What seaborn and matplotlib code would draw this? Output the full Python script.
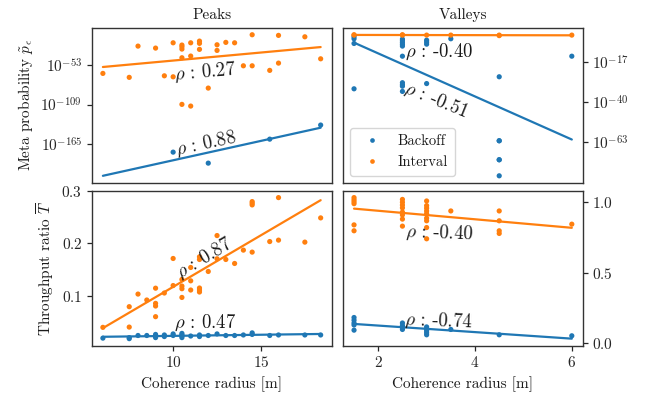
import numpy as np
import pandas as pd
import matplotlib
matplotlib.use("Agg")
import matplotlib.pyplot as plt
import seaborn as sns
from matplotlib.ticker import FixedLocator, FixedFormatter, NullLocator

# ---------------------------------------------------------------- data
methods = ["Backoff", "Interval"]
colors = {"Backoff": "#1f77b4", "Interval": "#ff7f0e"}

# Peaks: meta probability, stored as log10 values
peak_meta_backoff_r = [10, 12, 15.5, 18.4]
peak_meta_backoff_log = [-176.4, -192.0, -158.0, -138.0]
peak_meta_interval_r = [6, 7.5, 8, 9, 9.5, 10, 10, 10.5, 10.5, 10.5, 10.5, 10.5,
                        11, 11, 11, 11.5, 11.5, 11.5, 12, 12.5, 12.5, 13, 13.5,
                        14, 14.5, 14.5, 15.5, 16, 16, 17.5, 18.4]
peak_meta_interval_log = [-64.8, -70.4, -26.1, -28.9, -68.2, -21.4, -69.6, -24.6,
                          -27.0, -30.3, -42.6, -108.7, -21.4, -40.2, -111.1, -19.0,
                          -22.2, -30.7, -85.6, -24.2, -32.2, -20.8, -21.4, -54.0,
                          -10.0, -54.0, -60.5, -10.9, -50.2, -12.9, -44.1]

# Peaks: throughput ratio
peak_tp_backoff_r = [6, 7.5, 7.5, 8, 8.5, 9, 9, 9, 9.5, 9.5, 10, 10, 10.5, 10.5,
                     10.5, 10.5, 11, 11.5, 11.5, 12, 12.5, 13, 13.5, 14, 14.5,
                     14.5, 15.5, 16, 17.5, 18.4]
peak_tp_backoff = [0.020, 0.021, 0.019, 0.025, 0.025, 0.027, 0.024, 0.021, 0.026,
                   0.023, 0.028, 0.025, 0.029, 0.026, 0.024, 0.021, 0.024, 0.026,
                   0.023, 0.025, 0.028, 0.025, 0.025, 0.026, 0.030, 0.027, 0.025,
                   0.026, 0.026, 0.026]
peak_tp_interval_r = [6, 7.5, 7.5, 8, 8.5, 9, 9, 9, 9, 9.5, 10, 10, 10.5, 10.5,
                      10.5, 10.5, 11, 11, 11, 11.5, 11.5, 11.5, 11.5, 11.5, 12,
                      12.5, 12.5, 13, 13.5, 14, 14.5, 14.5, 14.5, 14.5, 15.5, 16,
                      16, 17.5, 18.4]
peak_tp_interval = [0.0405, 0.0798, 0.041, 0.1038, 0.0925, 0.115, 0.0861, 0.0811,
                    0.0608, 0.1058, 0.1715, 0.120, 0.1316, 0.119, 0.114, 0.0974,
                    0.1544, 0.129, 0.1115, 0.1747, 0.1696, 0.1153, 0.1115, 0.1077,
                    0.1468, 0.2151, 0.1709, 0.1696, 0.162, 0.1874, 0.2797, 0.2766,
                    0.2734, 0.1836, 0.2037, 0.2873, 0.2064, 0.2026, 0.2487]

# Valleys: meta probability, stored as log10 values (some runs coincide)
valley_meta_backoff_r = [1.5, 1.5, 1.5, 1.5, 2.5, 2.5, 2.5, 2.5, 2.5, 2.5, 2.5,
                         2.5, 2.5, 2.5, 3, 3, 3, 3, 3.5, 4.5, 4.5, 4.5, 4.5, 4.5,
                         4.5, 6]
valley_meta_backoff_log = [-2.6, -3.8, -6.5, -32.5, -4.0, -5.0, -6.0, -7.0, -8.0,
                           -13.8, -29.0, -30.2, -31.0, -34.0, -4.6, -5.7, -6.9,
                           -29.5, -3.8, -25.6, -62.3, -62.3, -73.2, -73.2, -82.4,
                           -13.8]
valley_meta_interval_r = [1.5, 1.5, 2.5, 2.5, 3, 3.5, 4.5, 4.5, 6]
valley_meta_interval_log = [-1.7, -1.5, -1.7, -1.5, -1.7, -1.7, -2.0, -1.7, -1.7]

# Valleys: throughput ratio
valley_tp_backoff_r = [1.5, 1.5, 1.5, 1.5, 1.5, 2.5, 2.5, 2.5, 2.5, 3, 3, 3, 3, 3,
                       3.5, 4.5, 6]
valley_tp_backoff = [0.180, 0.161, 0.141, 0.127, 0.090, 0.141, 0.123, 0.109, 0.095,
                     0.113, 0.099, 0.085, 0.071, 0.057, 0.095, 0.057, 0.050]
valley_tp_interval_r = [1.5, 1.5, 1.5, 1.5, 1.5, 1.5, 2.5, 2.5, 2.5, 2.5, 2.5, 2.5,
                        2.5, 2.5, 3, 3, 3, 3, 3, 3, 3, 3, 3, 3.5, 4.5, 4.5, 4.5,
                        4.5, 6]
valley_tp_interval = [1.033, 1.018, 1.004, 0.990, 0.839, 0.797, 1.02, 1.00, 0.98,
                      0.96, 0.93, 0.91, 0.88, 0.83, 1.009, 0.976, 0.958, 0.938,
                      0.919, 0.887, 0.868, 0.820, 0.740, 0.938, 0.938, 0.868,
                      0.797, 0.778, 0.844]

# correlation labels: (backoff, interval) per panel
rho_labels = {
    "peak_meta": ("0.88", "0.27"),
    "valley_meta": ("-0.51", "-0.40"),
    "peak_tp": ("0.47", "0.87"),
    "valley_tp": ("-0.74", "-0.40"),
}

peak_meta_tick_exp = [-165, -109, -53]
valley_meta_tick_exp = [-63, -40, -17]


def frame(r_b, v_b, r_i, v_i, log=False):
    df = pd.DataFrame({
        "radius": list(r_b) + list(r_i),
        "value": list(v_b) + list(v_i),
        "method": ["Backoff"] * len(r_b) + ["Interval"] * len(r_i),
    })
    df["fit"] = df["value"]
    if log:
        df["value"] = 10.0 ** df["fit"]
    return df


panels = {
    "peak_meta": frame(peak_meta_backoff_r, peak_meta_backoff_log,
                       peak_meta_interval_r, peak_meta_interval_log, log=True),
    "valley_meta": frame(valley_meta_backoff_r, valley_meta_backoff_log,
                         valley_meta_interval_r, valley_meta_interval_log, log=True),
    "peak_tp": frame(peak_tp_backoff_r, peak_tp_backoff,
                     peak_tp_interval_r, peak_tp_interval),
    "valley_tp": frame(valley_tp_backoff_r, valley_tp_backoff,
                       valley_tp_interval_r, valley_tp_interval),
}

# ---------------------------------------------------------------- style
sns.set_theme(style="ticks")
plt.rcParams.update({
    "font.family": "serif",
    "font.serif": ["cmr10"],
    "mathtext.fontset": "cm",
    "axes.formatter.use_mathtext": True,
    "font.size": 11,
    "axes.labelsize": 11,
    "axes.titlesize": 11,
    "xtick.labelsize": 11,
    "ytick.labelsize": 11,
    "axes.edgecolor": "0.2",
    "axes.linewidth": 1.0,
    "xtick.major.size": 3.5,
    "ytick.major.size": 3.5,
    "xtick.major.width": 0.9,
    "ytick.major.width": 0.9,
    "xtick.color": "0.15",
    "ytick.color": "0.15",
    "text.color": "0.1",
    "axes.labelcolor": "0.1",
    "axes.unicode_minus": False,
})

fig, axes = plt.subplots(2, 2, figsize=(6.52, 3.98), dpi=100, sharex="col")
fig.subplots_adjust(left=0.1411, right=0.8937, top=0.9304, bottom=0.1314,
                    wspace=0.0484, hspace=0.0496)

layout = {
    "peak_meta": axes[0, 0],
    "valley_meta": axes[0, 1],
    "peak_tp": axes[1, 0],
    "valley_tp": axes[1, 1],
}
log_panels = {"peak_meta", "valley_meta"}

# label placement in axes fraction: (x, y, rotation) for backoff / interval
text_place = {
    "peak_meta": ((0.478, 0.253, 12), (0.473, 0.715, 5)),
    "valley_meta": ((0.39, 0.535, -22), (0.40, 0.846, 0)),
    "peak_tp": ((0.474, 0.151, 0), (0.471, 0.565, 31)),
    "valley_tp": ((0.40, 0.162, -2), (0.40, 0.727, -2)),
}

for key, ax in layout.items():
    df = panels[key]
    if key in log_panels:
        ax.set_yscale("log")
    sns.scatterplot(data=df, x="radius", y="value", hue="method",
                    hue_order=methods, palette=colors, s=14, linewidth=0,
                    ax=ax, legend=(key == "valley_meta"), zorder=3)
    x_line = np.array([df["radius"].min(), df["radius"].max()])
    for m in methods:
        sub = df[df["method"] == m]
        slope, icpt = np.polyfit(sub["radius"], sub["fit"], 1)
        y_line = slope * x_line + icpt
        if key in log_panels:
            y_line = 10.0 ** y_line
        ax.plot(x_line, y_line, color=colors[m], lw=1.6, zorder=2)
    for m, (tx, ty, rot) in zip(methods, text_place[key]):
        label = rho_labels[key][methods.index(m)]
        ax.text(tx, ty, r"$\rho$ : " + label, transform=ax.transAxes,
                ha="center", va="center", rotation=rot, rotation_mode="anchor",
                fontsize=13.5, zorder=4)
    ax.set_xlabel("")
    ax.set_ylabel("")

# log tick marks
for key, exps in (("peak_meta", peak_meta_tick_exp), ("valley_meta", valley_meta_tick_exp)):
    ax = layout[key]
    ax.yaxis.set_major_locator(FixedLocator([10.0 ** e for e in exps]))
    ax.yaxis.set_major_formatter(FixedFormatter([r"$10^{%d}$" % e for e in exps]))
    ax.yaxis.set_minor_locator(NullLocator())

axes[1, 0].set_yticks([0.1, 0.2, 0.3])
axes[1, 1].set_yticks([0.0, 0.5, 1.0])
axes[1, 0].set_xticks([10, 15])
axes[1, 1].set_xticks([2, 4, 6])

for ax in axes[:, 1]:
    ax.yaxis.tick_right()
for ax in axes[0, :]:
    ax.tick_params(axis="x", length=0, labelbottom=False)

axes[0, 0].set_title("Peaks")
axes[0, 1].set_title("Valleys")
axes[0, 0].set_ylabel(r"Meta probability $\tilde{p}_\epsilon$")
axes[1, 0].set_ylabel(r"Throughput ratio $\overline{T}$")
axes[1, 0].set_xlabel("Coherence radius [m]")
axes[1, 1].set_xlabel("Coherence radius [m]")

handles, labels = axes[0, 1].get_legend_handles_labels()
axes[0, 1].legend(handles, labels, loc="lower left", fontsize=10.5,
                  frameon=True, fancybox=True, framealpha=0.8,
                  edgecolor="0.8", handletextpad=0.8, borderpad=0.45,
                  markerscale=0.9)

fig.savefig("out.png", dpi=100)
